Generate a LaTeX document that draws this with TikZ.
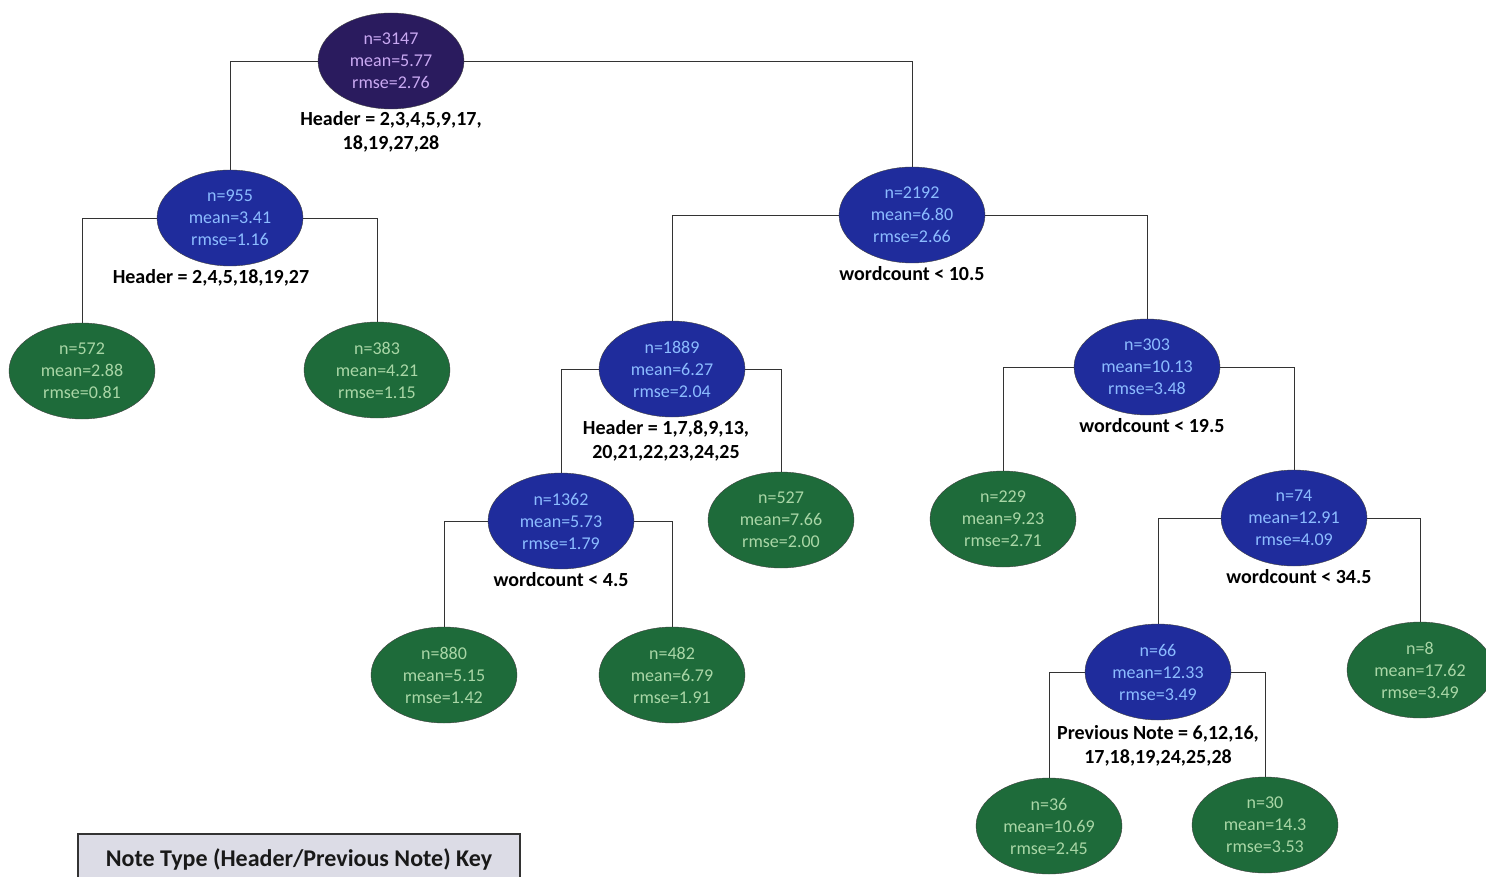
\documentclass[tikz,border=0pt]{standalone}
\usepackage{fontspec}
\setmainfont{Carlito}
\usepackage{tikz}
\usetikzlibrary{shapes.geometric}
\usetikzlibrary{positioning}

\definecolor{rootfill}{HTML}{2A1B5E}
\definecolor{roottext}{HTML}{C9A9F2}
\definecolor{splitfill}{HTML}{1F2C9C}
\definecolor{splittext}{HTML}{8CBCFF}
\definecolor{leaffill}{HTML}{1E6B3A}
\definecolor{leaftext}{HTML}{A9D6A6}
\definecolor{keyfill}{HTML}{DCDCE6}

\begin{document}
\begin{tikzpicture}[x=1pt,y=-1pt,
  stat/.style={ellipse, draw=black!75, thin, minimum width=146pt, minimum height=96pt,
    inner sep=0pt, align=center, font=\fontsize{18}{22}\selectfont},
  rootnode/.style={stat, fill=rootfill, text=roottext},
  splitnode/.style={stat, fill=splitfill, text=splittext},
  leafnode/.style={stat, fill=leaffill, text=leaftext},
  rule/.style={align=center, inner sep=0pt, font=\fontsize{20}{24}\selectfont\bfseries},
  edge/.style={draw=black!80, thick}]
\useasboundingbox (0,0) rectangle (1486,877);

% nodes of the tree
\node[rootnode] (n3147) at (391,61) {n=3147\\mean=5.77\\rmse=2.76};
\node[splitnode] (n955) at (230,218) {n=955\\mean=3.41\\rmse=1.16};
\node[splitnode] (n2192) at (912,215) {n=2192\\mean=6.80\\rmse=2.66};
\node[leafnode] (n572) at (82,371) {n=572\\mean=2.88\\rmse=0.81};
\node[leafnode] (n383) at (377,370) {n=383\\mean=4.21\\rmse=1.15};
\node[splitnode] (n1889) at (672,369) {n=1889\\mean=6.27\\rmse=2.04};
\node[splitnode] (n303) at (1147,367) {n=303\\mean=10.13\\rmse=3.48};
\node[splitnode] (n1362) at (561,521) {n=1362\\mean=5.73\\rmse=1.79};
\node[leafnode] (n527) at (781,520) {n=527\\mean=7.66\\rmse=2.00};
\node[leafnode] (n229) at (1003,519) {n=229\\mean=9.23\\rmse=2.71};
\node[splitnode] (n74) at (1294,518) {n=74\\mean=12.91\\rmse=4.09};
\node[leafnode] (n880) at (444,675) {n=880\\mean=5.15\\rmse=1.42};
\node[leafnode] (n482) at (672,675) {n=482\\mean=6.79\\rmse=1.91};
\node[splitnode] (n66) at (1158,672) {n=66\\mean=12.33\\rmse=3.49};
\node[leafnode] (n8) at (1420,670) {n=8\\mean=17.62\\rmse=3.49};
\node[leafnode] (n36) at (1049,826) {n=36\\mean=10.69\\rmse=2.45};
\node[leafnode] (n30) at (1265,825) {n=30\\mean=14.3\\rmse=3.53};

% split rules
\node[rule, below=2pt of n3147] (r3147) {Header = 2,3,4,5,9,17,\\18,19,27,28};
\node[rule, below=3pt of n955, xshift=-19pt] (r955) {Header = 2,4,5,18,19,27};
\node[rule, below=3pt of n2192] (r2192) {wordcount {\textless} 10.5};
\node[rule, below=3pt of n1889, xshift=-6pt] (r1889) {Header = 1,7,8,9,13,\\20,21,22,23,24,25};
\node[rule, below=3pt of n303, xshift=5pt] (r303) {wordcount {\textless} 19.5};
\node[rule, below=3pt of n1362] (r1362) {wordcount {\textless} 4.5};
\node[rule, below=3pt of n74, xshift=5pt] (r74) {wordcount {\textless} 34.5};
\node[rule, below=5pt of n66] (r66) {Previous Note = 6,12,16,\\17,18,19,24,25,28};

% connectors
\draw[edge] (n3147.west) -| (n955.north);
\draw[edge] (n3147.east) -| (n2192.north);
\draw[edge] (n955.west) -| (n572.north);
\draw[edge] (n955.east) -| (n383.north);
\draw[edge] (n2192.west) -| (n1889.north);
\draw[edge] (n2192.east) -| (n303.north);
\draw[edge] (n1889.west) -| (n1362.north);
\draw[edge] (n1889.east) -| (n527.north);
\draw[edge] (n303.west) -| (n229.north);
\draw[edge] (n303.east) -| (n74.north);
\draw[edge] (n1362.west) -| (n880.north);
\draw[edge] (n1362.east) -| (n482.north);
\draw[edge] (n74.west) -| (n66.north);
\draw[edge] (n74.east) -| (n8.north);
\draw[edge] (n66.west) -| (n36.north);
\draw[edge] (n66.east) -| (n30.north);

% key
\node[draw=black!80, line width=2pt, fill=keyfill, minimum width=442pt, minimum height=50pt,
  anchor=north west, font=\fontsize{24}{28}\selectfont\bfseries, text=black!90] (key) at (77,833)
  {Note Type (Header/Previous Note) Key};
\end{tikzpicture}
\end{document}
